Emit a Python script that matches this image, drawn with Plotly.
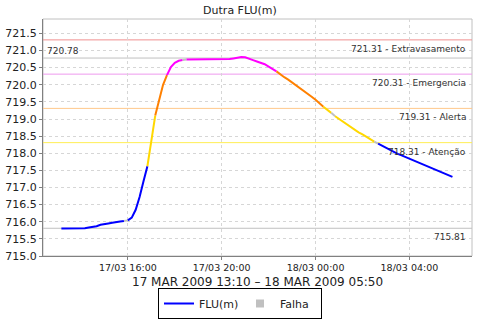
import plotly.graph_objects as go
import pandas as pd

# ---- data ----
start_time = "2009-03-17 13:10"
step = "10min"
levels = [
    715.80, 715.80, 715.80, 715.80, 715.80,                  # 13:10-13:50
    715.80, 715.81, 715.83, 715.84, 715.87, 715.91,          # 14
    715.94, 715.95, 715.97, 716.00, 716.01, 716.02,          # 15
    716.04, 716.12, 716.35, 716.72, 717.18, 717.62,          # 16
    718.38, 719.10, 719.58, 720.00, 720.28, 720.52,          # 17
    720.64, 720.70, 720.72, 720.74, 720.74, 720.74,          # 18
    720.74, 720.74, 720.74, 720.74, 720.74, 720.74,          # 19
    720.74, 720.74, 720.75, 720.77, 720.79, 720.81,          # 20
    720.80, 720.77, 720.72, 720.68, 720.65, 720.60,          # 21
    720.53, 720.47, 720.39, 720.30, 720.22, 720.15,          # 22
    720.07, 719.99, 719.90, 719.82, 719.74, 719.65,          # 23
    719.56, 719.47, 719.36, 719.27, 719.18, 719.08,          # 00
    719.00, 718.92, 718.84, 718.76, 718.69, 718.61,          # 01
    718.55, 718.48, 718.41, 718.34, 718.28, 718.22,          # 02
    718.15, 718.08, 718.03, 717.98, 717.94, 717.89,          # 03
    717.84, 717.79, 717.74, 717.70, 717.65, 717.61,          # 04
    717.56, 717.51, 717.46, 717.41, 717.36, 717.31,          # 05
]
falha_times = ["2009-03-17 16:00", "2009-03-17 18:30", "2009-03-18 00:50", "2009-03-18 02:40"]

threshold_values = [721.31, 720.31, 719.31, 718.31]
threshold_names = ["Extravasamento", "Emergencia", "Alerta", "Atenção"]
threshold_colors = ["#F09090", "#EE99EE", "#FFC88A", "#FFEE55"]
# line colour: at/above 720.31, 719.31, 718.31, and below
band_limits = [720.31, 719.31, 718.31]
band_colors = ["#FF00FF", "#FF8000", "#FFD800"]
base_color = "#0000FF"
max_value = 720.78
min_value = 715.81

x_ticks_format = "%d/%m %H:%M"
x_title = "17 MAR 2009 13:10 – 18 MAR 2009 05:50"
chart_title = "Dutra FLU(m)"
falha_color = "#C0C0C0"

times = pd.date_range(start_time, periods=len(levels), freq=step)
falha_set = set(pd.to_datetime(falha_times))


def level_color(v):
    for t, c in zip(band_limits, band_colors):
        if v >= t:
            return c
    return base_color


seg_colors = []
for i in range(1, len(levels)):
    if times[i] in falha_set:
        seg_colors.append(falha_color)
    else:
        seg_colors.append(level_color(levels[i]))

fig = go.Figure()

i = 0
while i < len(seg_colors):
    c = seg_colors[i]
    j = i
    while j + 1 < len(seg_colors) and seg_colors[j + 1] == c:
        j += 1
    xs = list(times[i:j + 2])
    ys = levels[i:j + 2]
    fig.add_trace(go.Scatter(x=xs, y=ys, mode="lines",
                             line=dict(color=c, width=2),
                             showlegend=False, hoverinfo="skip"))
    i = j + 1

fig.add_trace(go.Scatter(x=[None], y=[None], mode="lines", name="FLU(m)",
                         line=dict(color=base_color, width=2)))
fig.add_trace(go.Scatter(x=[None], y=[None], mode="markers", name="Falha",
                         marker=dict(symbol="square", color=falha_color, size=8)))

shapes = [dict(type="rect", xref="paper", yref="paper", x0=0, x1=1, y0=0, y1=1,
               line=dict(color="#C0C0C0", width=1), layer="below")]
annotations = []
font_lbl = dict(family="DejaVu Sans", size=9, color="#333333")

for v, n, c in zip(threshold_values, threshold_names, threshold_colors):
    shapes.append(dict(type="line", xref="paper", yref="y", x0=0, x1=1, y0=v, y1=v,
                       line=dict(color=c, width=1), layer="between"))
    annotations.append(dict(xref="paper", yref="y", x=1, y=v, xanchor="right", yanchor="top",
                            xshift=-4, yshift=-2, showarrow=False,
                            text=f"{v:.2f} - {n}", font=font_lbl))

for v in [max_value, min_value]:
    shapes.append(dict(type="line", xref="paper", yref="y", x0=0, x1=1, y0=v, y1=v,
                       line=dict(color="#C0C0C0", width=1), layer="between"))

annotations.append(dict(xref="paper", yref="y", x=0, y=max_value, xanchor="left", yanchor="bottom",
                        xshift=2, yshift=0, showarrow=False, text=f"{max_value:.2f}", font=font_lbl))
annotations.append(dict(xref="paper", yref="y", x=1, y=min_value, xanchor="right", yanchor="top",
                        xshift=-4, yshift=-2, showarrow=False, text=f"{min_value:.2f}", font=font_lbl))

annotations.append(dict(xref="paper", yref="paper", x=0.5, y=-0.11, xanchor="center", yanchor="middle",
                        showarrow=False, text=x_title,
                        font=dict(family="DejaVu Sans", size=12, color="#222222")))

fig.update_layout(
    width=480, height=320,
    margin=dict(l=43, r=8, t=19, b=64, autoexpand=False),
    paper_bgcolor="white", plot_bgcolor="white",
    title=dict(text=chart_title, x=0.5, xref="container", xanchor="center",
               y=1 - 10 / 320, yanchor="middle",
               font=dict(family="DejaVu Sans", size=11, color="#222222")),
    font=dict(family="DejaVu Sans", color="#222222"),
    shapes=shapes,
    annotations=annotations,
    legend=dict(orientation="h", xref="container", yref="container",
                x=0.5, xanchor="center", y=1 / 320, yanchor="bottom",
                bordercolor="black", borderwidth=1, bgcolor="white",
                font=dict(family="DejaVu Sans", size=11, color="#222222"),
                itemwidth=30, tracegroupgap=0, entrywidth=36),
    xaxis=dict(type="date", range=["2009-03-17 12:23", "2009-03-18 06:40"],
               tickformat=x_ticks_format, dtick=4 * 3600 * 1000, tick0="2009-03-17 00:00",
               showgrid=True, gridcolor="#D6D6D6", griddash="3px,3px", gridwidth=1,
               showline=True, linecolor="#808080", linewidth=1,
               ticks="outside", ticklen=3, tickcolor="#808080",
               tickfont=dict(family="DejaVu Sans", size=9.5, color="#222222"),
               zeroline=False, fixedrange=True, automargin=False),
    yaxis=dict(range=[715.0, 721.92], dtick=0.5, tick0=715.0, tickformat=".1f",
               showgrid=True, gridcolor="#D6D6D6", griddash="3px,3px", gridwidth=1,
               showline=True, linecolor="#808080", linewidth=1,
               ticks="outside", ticklen=3, tickcolor="#808080",
               tickfont=dict(family="DejaVu Sans", size=11, color="#222222"),
               zeroline=False, fixedrange=True, automargin=False),
)

fig.write_html("out.html")
